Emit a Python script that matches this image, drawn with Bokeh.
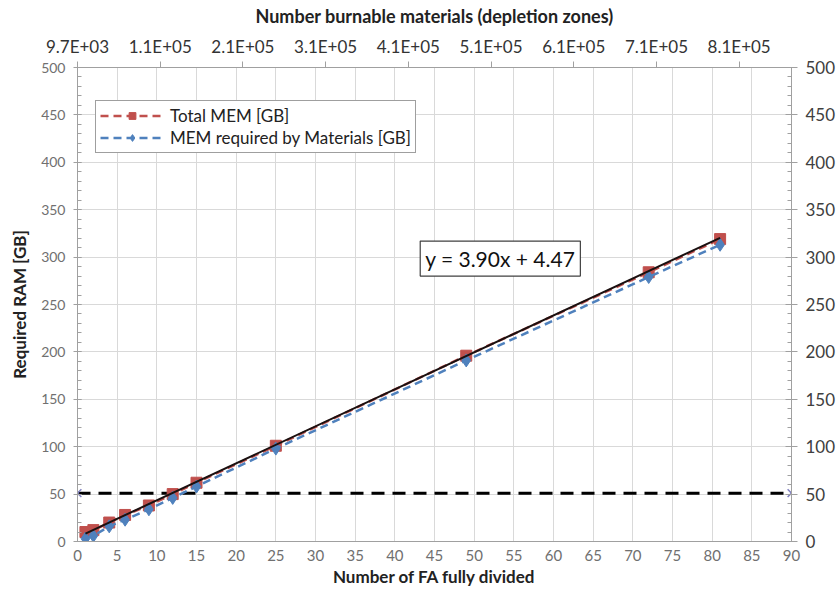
from bokeh.plotting import figure
from bokeh.models import (LinearAxis, Range1d, FixedTicker, Label, Legend, LegendItem,
                          ColumnDataSource)
from bokeh.embed import file_html
from bokeh.resources import INLINE

# ---- data ----
fa = [1, 2, 4, 6, 9, 12, 15, 25, 49, 72, 81]
total_mem = [10, 12, 20, 28, 38, 50, 62, 101, 196, 284, 319]
mat_mem = [3, 6, 16, 23, 34, 46, 58, 98, 191, 279, 313]
trend_slope = 3.90
trend_intercept = 4.47
limit_x = [0, 90]
limit_y = [51, 51]
top_min = 9.7e3
top_max = 8.73e5
top_step = 1e5
y_ticks = list(range(0, 501, 50))
x_ticks = list(range(0, 91, 5))

FONT = "Lato"
p = figure(width=840, height=603, output_backend="svg", toolbar_location=None,
           x_range=Range1d(0, 90), y_range=Range1d(0, 500),
           min_border_left=77, min_border_right=49, min_border_top=67, min_border_bottom=62)
p.outline_line_color = None
p.background_fill_color = "white"
p.border_fill_color = "white"

# grid
p.xgrid.ticker = FixedTicker(ticks=x_ticks)
p.ygrid.ticker = FixedTicker(ticks=y_ticks)
p.xgrid.grid_line_color = "#d9d9d9"
p.ygrid.grid_line_color = "#d9d9d9"

# bottom axis
xa = p.xaxis[0]
xa.ticker = FixedTicker(ticks=x_ticks)
xa.axis_label = "Number of FA fully divided"
xa.axis_label_text_font = FONT
xa.axis_label_text_font_style = "bold"
xa.axis_label_text_font_size = "17px"
xa.axis_label_text_color = "#222222"
xa.axis_label_standoff = 2
xa.major_label_text_font = FONT
xa.major_label_text_font_size = "15px"
xa.major_label_text_color = "#707070"
xa.major_tick_out = 0
xa.major_tick_in = 0
xa.minor_tick_out = 0
xa.axis_line_color = "#a0a0a0"
xa.major_label_standoff = 8

# left axis
ya = p.yaxis[0]
ya.ticker = FixedTicker(ticks=y_ticks, minor_ticks=list(range(0, 501, 10)))
ya.axis_label = "Required RAM [GB]"
ya.axis_label_text_font = FONT
ya.axis_label_text_font_style = "bold"
ya.axis_label_text_font_size = "17px"
ya.axis_label_text_color = "#222222"
ya.axis_label_standoff = 8
ya.major_label_text_font = FONT
ya.major_label_text_font_size = "14px"
ya.major_label_text_color = "#707070"
ya.major_tick_out = 4
ya.major_tick_in = 4
ya.minor_tick_in = 4
ya.minor_tick_out = 0
ya.axis_line_color = "#a0a0a0"
ya.major_tick_line_color = "#a0a0a0"
ya.minor_tick_line_color = "#a0a0a0"
ya.major_label_standoff = 8

# right axis
yr = LinearAxis(ticker=FixedTicker(ticks=y_ticks, minor_ticks=list(range(0, 501, 10))))
yr.major_label_text_font = FONT
yr.major_label_text_font_size = "17px"
yr.major_label_text_color = "#404040"
yr.major_tick_out = 6
yr.major_tick_in = 6
yr.minor_tick_in = 4
yr.minor_tick_out = 0
yr.axis_line_color = "#a0a0a0"
yr.major_tick_line_color = "#a0a0a0"
yr.minor_tick_line_color = "#a0a0a0"
yr.major_label_standoff = 8
p.add_layout(yr, "right")

# top axis
p.extra_x_ranges = {"top": Range1d(top_min, top_max)}
top_ticks = [top_min + k * top_step for k in range(9)]
xt = LinearAxis(x_range_name="top", ticker=FixedTicker(ticks=top_ticks, minor_ticks=[]))
xt.major_label_overrides = {t: f"{t:.1E}" for t in top_ticks}
xt.axis_label = "Number burnable materials (depletion zones)"
xt.axis_label_text_font = FONT
xt.axis_label_text_font_style = "bold"
xt.axis_label_text_font_size = "18px"
xt.axis_label_text_color = "#222222"
xt.axis_label_standoff = 6
xt.major_label_text_font = FONT
xt.major_label_text_font_size = "17px"
xt.major_label_text_color = "#333333"
xt.major_tick_out = 6
xt.major_tick_in = 0
xt.axis_line_color = "#a0a0a0"
xt.major_tick_line_color = "#a0a0a0"
xt.major_label_standoff = 5
p.add_layout(xt, "above")

# horizontal limit line
p.line(limit_x, limit_y, line_color="black", line_width=3, line_dash="13 8")
p.scatter(limit_x, limit_y, marker="x", size=11, line_color="#8080c0", line_width=1.5)

src = ColumnDataSource(dict(x=fa, t=total_mem, m=mat_mem))

# series
r_tl = p.line("x", "t", source=src, line_color="#c0504d", line_width=2.5, line_dash="8 5")
r_ts = p.scatter("x", "t", source=src, marker="square", size=11, fill_color="#c0504d",
                 line_color="#c0504d")
r_ml = p.line("x", "m", source=src, line_color="#4f81bd", line_width=2.5, line_dash="8 5")
r_ms = p.scatter("x", "m", source=src, marker="diamond", size=13, fill_color="#4f81bd",
                 line_color="#4f81bd")

# trend line
tx = [min(fa), max(fa)]
ty = [trend_slope * v + trend_intercept for v in tx]
p.line(tx, ty, line_color="#1a1010", line_width=2)

# equation label
eq = Label(x=43.2, y=280, text=f"y = {trend_slope:.2f}x + {trend_intercept:.2f}",
           text_font=FONT, text_font_size="21px", text_color="#111111",
           border_line_color="#404040", border_line_width=1.2,
           background_fill_color="white", padding=5)
p.add_layout(eq)

legend = Legend(items=[
    LegendItem(label="Total MEM [GB]", renderers=[r_tl, r_ts]),
    LegendItem(label="MEM required by Materials [GB]", renderers=[r_ml, r_ms]),
], location=(18, 388))
legend.label_text_font = FONT
legend.label_text_font_size = "17px"
legend.label_text_color = "#222222"
legend.border_line_color = "#404040"
legend.border_line_width = 1.2
legend.background_fill_alpha = 1
legend.glyph_width = 64
legend.glyph_height = 17
legend.label_height = 17
legend.spacing = 1
legend.padding = 4
legend.margin = 0
legend.label_standoff = 6
p.add_layout(legend, "center")

open("out.html", "w").write(file_html(p, INLINE))
